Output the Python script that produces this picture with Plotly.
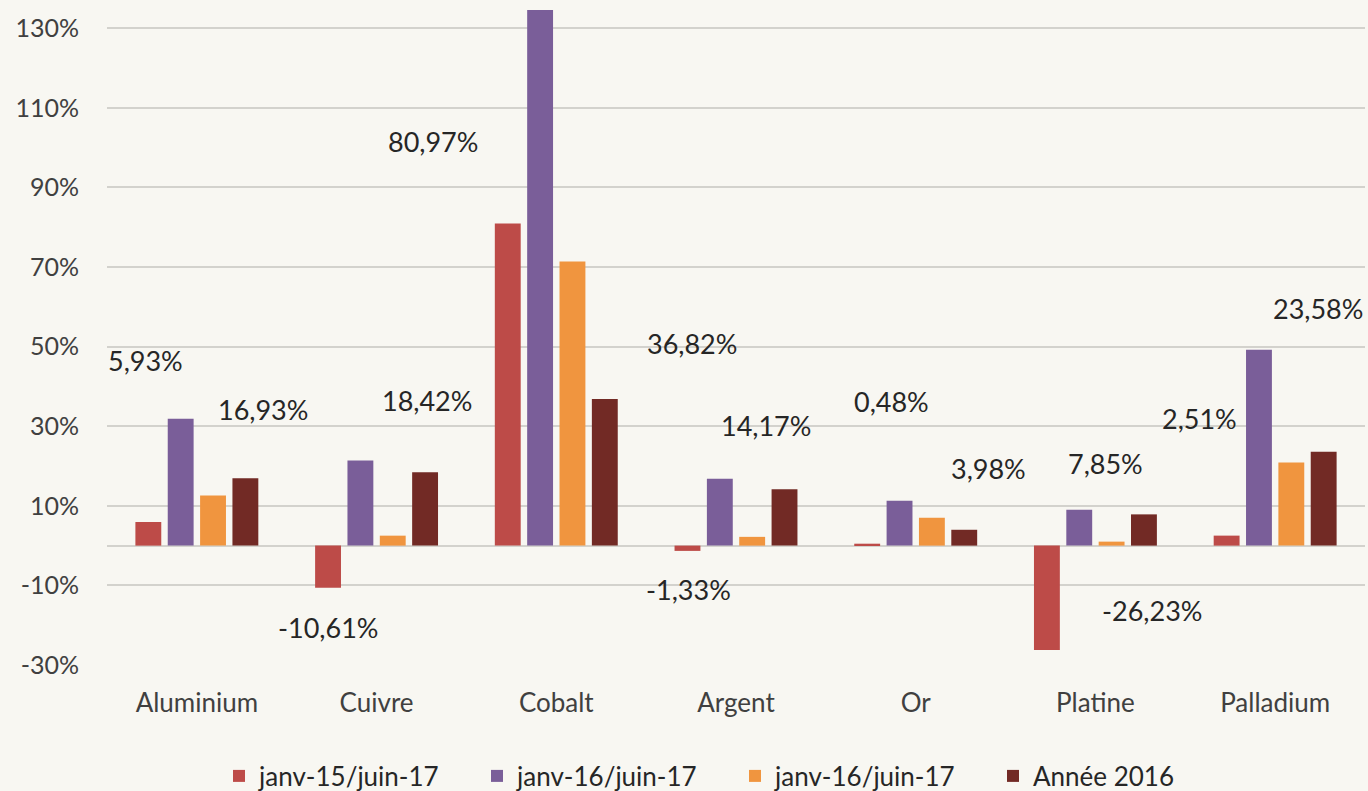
import plotly.graph_objects as go

categories = ["Aluminium", "Cuivre", "Cobalt", "Argent", "Or", "Platine", "Palladium"]
series_names = ["janv-15/juin-17", "janv-16/juin-17", "janv-16/juin-17", "Année 2016"]
s1 = [5.93, -10.61, 80.97, -1.33, 0.48, -26.23, 2.51]
s2 = [31.9, 21.4, 134.6, 16.8, 11.3, 9.0, 49.2]
s3 = [12.6, 2.5, 71.4, 2.2, 7.0, 1.0, 20.9]
s4 = [16.93, 18.42, 36.82, 14.17, 3.98, 7.85, 23.58]
colors = ["#BD4B48", "#7A5E99", "#F0953F", "#722A25"]
y_tickvals = [-30, -10, 10, 30, 50, 70, 90, 110, 130]
y_ticktext = ["-30%", "-10%", "10%", "30%", "50%", "70%", "90%", "110%", "130%"]

# labelled values and their text positions (pixel centres in the picture)
label_texts = ["5,93%", "16,93%", "-10,61%", "18,42%", "80,97%", "36,82%", "-1,33%",
               "14,17%", "0,48%", "3,98%", "7,85%", "-26,23%", "2,51%", "23,58%"]
label_px = [(145, 360), (263, 409), (328, 627), (427, 400), (433, 142), (692, 343),
            (688, 589), (766, 425), (891, 401), (988, 468), (1105, 464), (1152, 610),
            (1199, 418), (1318, 308)]

W, H = 1368, 791
L, R, T, B = 107, 3, 0, 126
pw, ph = W - L - R, H - T - B

fig = go.Figure()
for name, vals, c in zip(series_names, [s1, s2, s3, s4], colors):
    fig.add_trace(go.Bar(x=categories, y=vals, name=name, marker=dict(color=c, line=dict(width=0))))

for t, (px, py) in zip(label_texts, label_px):
    fig.add_annotation(text=t, x=(px - L) / pw, y=(H - B - py) / ph, xref="paper", yref="paper",
                       showarrow=False, xanchor="center", yanchor="middle",
                       font=dict(family="Lato", size=27, color="#262626"))

bg = "#F8F7F2"
fig.update_layout(
    width=W, height=H,
    margin=dict(l=L, r=R, t=T, b=B, autoexpand=False),
    paper_bgcolor=bg, plot_bgcolor=bg,
    barmode="group", bargap=0.28, bargroupgap=0.2,
    font=dict(family="Lato", color="#404040"),
    separators=", ",
    showlegend=True,
    legend=dict(orientation="h", x=(219 - L) / pw, xanchor="left", y=(H - B - 776) / ph,
                yanchor="middle", font=dict(size=26, color="#262626"),
                entrywidth=213, entrywidthmode="pixels", bgcolor="rgba(0,0,0,0)"),
    xaxis=dict(tickfont=dict(size=26, color="#404040"), ticks="outside", ticklen=15,
               tickcolor="rgba(0,0,0,0)", showgrid=False, showline=False, zeroline=False),
    yaxis=dict(range=[-30, 137.1], tickvals=y_tickvals, ticktext=y_ticktext,
               tickfont=dict(size=25, color="#404040"), ticks="outside", ticklen=22,
               tickcolor="rgba(0,0,0,0)", showgrid=True, gridcolor="#D3D2CD", gridwidth=2,
               zeroline=True, zerolinecolor="#D3D2CD", zerolinewidth=2, showline=False),
)

fig.write_html("out.html", config={"displayModeBar": False},
               post_script="document.body.style.margin='0px';")
